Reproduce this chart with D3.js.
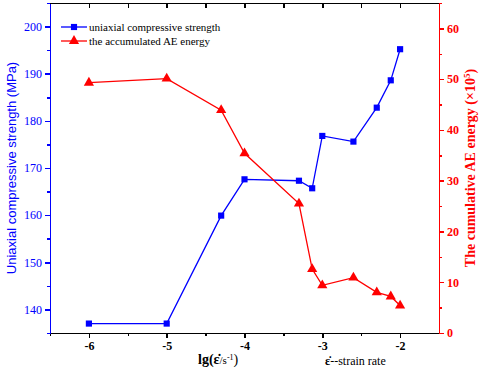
<!DOCTYPE html>
<html>
  <head>
    <meta charset="utf-8">
    <title>Uniaxial compressive strength and AE energy vs strain rate</title>
    <script src="https://cdn.jsdelivr.net/npm/d3@7"></script>
    <style>
      body { margin: 0; background: #fff; }
      svg { display: block; }
      .axis path, .axis line { shape-rendering: crispEdges; }
    </style>
  </head>

  <body>
    <svg id="chart" width="484" height="372"></svg>

    <script>
      // data
      strainRates = [-6, -5, -4.3, -4, -3.3, -3.13, -3, -2.6, -2.3, -2.12, -2];
      strength = [137, 137, 159.9, 167.6, 167.3, 165.7, 176.8, 175.6, 182.8, 188.6, 195.2];
      aeEnergy = [49.3, 50.1, 43.9, 35.4, 25.5, 12.6, 9.4, 10.9, 8.0, 7.2, 5.4];
      xTicks = [-6, -5, -4, -3, -2];
      xMinorTicks = [-6.5, -5.5, -4.5, -3.5, -2.5];
      strengthTicks = [140, 150, 160, 170, 180, 190, 200];
      strengthMinorTicks = [135, 145, 155, 165, 175, 185, 195, 205];
      energyTicks = [0, 10, 20, 30, 40, 50, 60];
      energyMinorTicks = [5, 15, 25, 35, 45, 55, 65];
      seriesNames = ["uniaxial compressive strength", "the accumulated AE energy"];

      blue = "#0000ff";
      red = "#ff0000";
      serif = "'Liberation Serif', 'Times New Roman', serif";

      width = 484;
      height = 372;
      margin = {top: 3, right: 45, bottom: 39, left: 50};

      chart = d3.select("#chart");

      scaleX = d3.scaleLinear()
        .domain([-6.5, -1.5])
        .range([margin.left, width - margin.right]);

      scaleStrength = d3.scaleLinear()
        .domain([135, 205])
        .range([height - margin.bottom, margin.top]);

      scaleEnergy = d3.scaleLinear()
        .domain([0, 65])
        .range([height - margin.bottom, margin.top]);

      // axes
      function addAxis(axis, transform, colour) {
        let g = chart.append("g")
          .classed("axis", true)
          .attr("transform", transform)
          .call(axis);
        g.selectAll("path, line")
          .attr("stroke", colour)
          .attr("stroke-width", 1.5);
        g.selectAll("text")
          .attr("fill", colour)
          .style("font-family", serif)
          .style("font-size", "12px");
        return g;
      }

      bottom = height - margin.bottom;
      right = width - margin.right;
      plain = d => String(d);

      // minor ticks first
      addAxis(d3.axisBottom(scaleX).tickValues(xMinorTicks).tickFormat("").tickSize(3).tickSizeOuter(0),
        "translate(0," + bottom + ")", "#000");
      addAxis(d3.axisTop(scaleX).tickValues(xTicks.concat(xMinorTicks)).tickFormat("").tickSize(-5).tickSizeOuter(0),
        "translate(0," + margin.top + ")", "#000");
      addAxis(d3.axisLeft(scaleStrength).tickValues(strengthMinorTicks).tickFormat("").tickSize(3).tickSizeOuter(0),
        "translate(" + margin.left + ",0)", blue);
      addAxis(d3.axisRight(scaleEnergy).tickValues(energyMinorTicks).tickFormat("").tickSize(3).tickSizeOuter(0),
        "translate(" + right + ",0)", red);

      xAxisGroup = addAxis(d3.axisBottom(scaleX).tickValues(xTicks).tickFormat(plain).tickSize(5).tickSizeOuter(0).tickPadding(3),
        "translate(0," + bottom + ")", "#000");
      xAxisGroup.selectAll("text").style("font-weight", "bold");

      yAxisGroup = addAxis(d3.axisLeft(scaleStrength).tickValues(strengthTicks).tickFormat(plain).tickSize(5).tickSizeOuter(0).tickPadding(3),
        "translate(" + margin.left + ",0)", blue);

      y2AxisGroup = addAxis(d3.axisRight(scaleEnergy).tickValues(energyTicks).tickFormat(plain).tickSize(5).tickSizeOuter(0).tickPadding(3),
        "translate(" + right + ",0)", red);
      y2AxisGroup.selectAll("text").style("font-weight", "bold");

      // series
      series = [
        {values: strength, scale: scaleStrength, colour: blue, symbol: d3.symbolSquare, size: 38},
        {values: aeEnergy, scale: scaleEnergy, colour: red, symbol: d3.symbolTriangle, size: 45}
      ];

      series.forEach(function(s) {
        let line = d3.line()
          .x((d, i) => scaleX(strainRates[i]))
          .y(d => s.scale(d));

        chart.append("path")
          .datum(s.values)
          .attr("d", line)
          .attr("fill", "none")
          .attr("stroke", s.colour)
          .attr("stroke-width", 1.3);

        chart.selectAll(null)
          .data(s.values)
          .enter().append("path")
            .attr("transform", (d, i) => "translate(" + scaleX(strainRates[i]) + "," + s.scale(d) + ")")
            .attr("d", d3.symbol(s.symbol, s.size))
            .attr("fill", s.colour);
      });

      // legend
      legend = chart.append("g")
        .attr("transform", "translate(61,27)");

      series.forEach(function(s, i) {
        let row = legend.append("g")
          .attr("transform", "translate(0," + i * 14 + ")");
        row.append("line")
          .attr("x1", 0)
          .attr("x2", 26)
          .attr("stroke", s.colour)
          .attr("stroke-width", 1.3);
        row.append("path")
          .attr("transform", "translate(13,0)")
          .attr("d", d3.symbol(s.symbol, s.size))
          .attr("fill", s.colour);
        row.append("text")
          .attr("x", 28)
          .attr("dy", "0.35em")
          .style("font-family", serif)
          .style("font-size", "11px")
          .text(seriesNames[i]);
      });

      // axis titles
      chart.append("text")
        .attr("transform", "translate(16," + (margin.top + bottom) / 2 + ") rotate(-90)")
        .attr("text-anchor", "middle")
        .style("font-family", "'Liberation Sans', sans-serif")
        .style("font-size", "13px")
        .attr("fill", blue)
        .text("Uniaxial compressive strength (MPa)");

      y2Title = chart.append("text")
        .attr("transform", "translate(475," + (margin.top + bottom) / 2 + ") rotate(-90)")
        .attr("text-anchor", "middle")
        .style("font-family", serif)
        .style("font-size", "14px")
        .style("font-weight", "bold")
        .attr("fill", red);
      y2Title.append("tspan").text("The cumulative AE energy (\u00d710");
      y2Title.append("tspan").attr("dy", -5).style("font-size", "9px").text("5");
      y2Title.append("tspan").attr("dy", 5).text(")");

      // strain rate symbol: epsilon with a combining dot above
      epsDot = "\u03b5\u0307";

      xTitle = chart.append("text")
        .attr("x", 198)
        .attr("y", 364)
        .style("font-family", serif)
        .style("font-size", "14px")
        .attr("fill", "#000");
      xTitle.append("tspan").style("font-weight", "bold").text("lg(" + epsDot);
      xTitle.append("tspan").style("font-size", "11px").text("/s");
      xTitle.append("tspan").attr("dy", -4).style("font-size", "8px").text("-1");
      xTitle.append("tspan").attr("dy", 4).text(")");

      xTitle2 = chart.append("text")
        .attr("x", 325)
        .attr("y", 365)
        .style("font-family", serif)
        .style("font-size", "12px")
        .attr("fill", "#000");
      xTitle2.append("tspan").style("font-weight", "bold").text(epsDot);
      xTitle2.append("tspan").text("--strain rate");
    </script>
  </body>
</html>
